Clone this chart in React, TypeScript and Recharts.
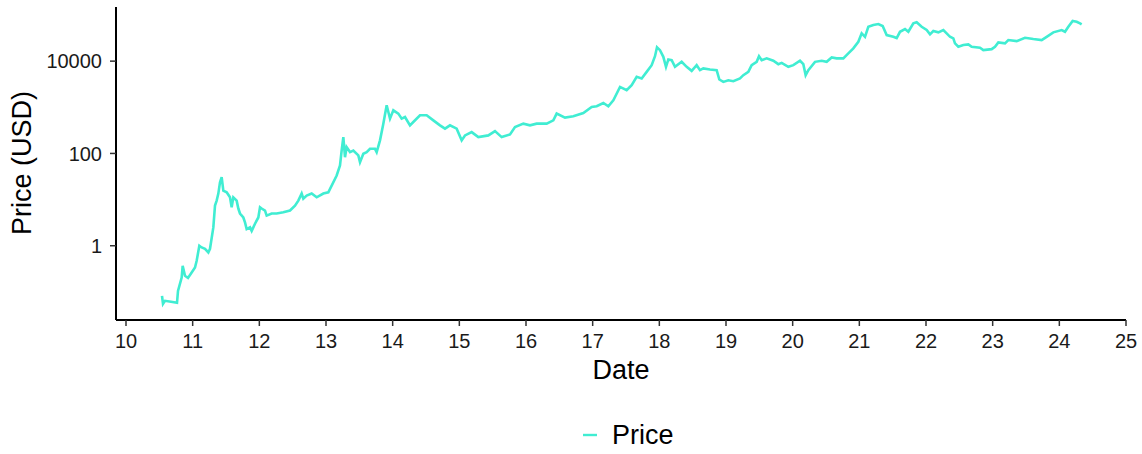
import { LineChart, Line, XAxis, YAxis, Legend, Label } from 'recharts';

// decimal year (10 = 2010)
const years = [
  10.54, 10.555, 10.585, 10.675, 10.765, 10.78, 10.835, 10.85, 10.885, 10.93,
  10.985, 11.035, 11.06, 11.1, 11.135, 11.185, 11.235, 11.26, 11.31, 11.335,
  11.36, 11.385, 11.41, 11.435, 11.46, 11.51, 11.56, 11.585, 11.61, 11.66,
  11.685, 11.71, 11.76, 11.785, 11.81, 11.86, 11.885, 11.935, 11.985, 12.01,
  12.035, 12.085, 12.11, 12.185, 12.26, 12.36, 12.46, 12.535, 12.585, 12.635,
  12.66, 12.71, 12.785, 12.86, 12.96, 13.035, 13.085, 13.16, 13.21, 13.235,
  13.26, 13.285, 13.31, 13.36, 13.41, 13.485, 13.51, 13.56, 13.61, 13.66,
  13.735, 13.76, 13.81, 13.86, 13.91, 13.96, 14.01, 14.085, 14.135, 14.185,
  14.26, 14.31, 14.41, 14.51, 14.61, 14.71, 14.785, 14.86, 14.96, 15.035,
  15.085, 15.185, 15.285, 15.435, 15.535, 15.635, 15.76, 15.835, 15.96, 16.06,
  16.16, 16.31, 16.41, 16.46, 16.585, 16.71, 16.86, 16.985, 17.06, 17.16,
  17.235, 17.31, 17.41, 17.51, 17.585, 17.66, 17.735, 17.81, 17.885, 17.935,
  17.965, 18.01, 18.06, 18.1, 18.135, 18.185, 18.235, 18.335, 18.41, 18.485,
  18.56, 18.61, 18.66, 18.76, 18.86, 18.9, 18.96, 19.035, 19.11, 19.21,
  19.26, 19.335, 19.385, 19.46, 19.495, 19.535, 19.61, 19.71, 19.785, 19.835,
  19.935, 20.01, 20.11, 20.16, 20.195, 20.235, 20.335, 20.435, 20.51, 20.585,
  20.66, 20.76, 20.835, 20.91, 20.985, 21.035, 21.085, 21.135, 21.21, 21.285,
  21.35, 21.41, 21.51, 21.56, 21.61, 21.685, 21.735, 21.81, 21.86, 21.935,
  22.01, 22.06, 22.11, 22.185, 22.26, 22.31, 22.36, 22.41, 22.435, 22.485,
  22.56, 22.635, 22.685, 22.81, 22.86, 22.985, 23.035, 23.085, 23.185, 23.235,
  23.36, 23.485, 23.61, 23.735, 23.81, 23.91, 24.035, 24.085, 24.135, 24.2,
  24.26, 24.31, 24.335,
];

// price in USD
const prices = [
  0.082, 0.055, 0.064, 0.061, 0.058, 0.105, 0.205, 0.367, 0.223, 0.201,
  0.263, 0.337, 0.472, 1.0, 0.918, 0.86, 0.715, 0.86, 2.5, 7.4,
  9.5, 13.5, 23.8, 30.5, 15.7, 14.4, 11.2, 6.8, 11.2, 9.5,
  6.4, 5.0, 4.1, 3.2, 2.3, 2.5, 2.1, 3.0, 4.1, 6.8,
  6.4, 5.8, 4.5, 5.0, 5.0, 5.3, 5.8, 7.4, 9.5, 13.5,
  10.5, 12.2, 13.5, 11.2, 13.5, 14.4, 20.1, 33.3, 54.8, 116,
  226, 83, 137, 107, 116, 90.5, 64.7, 98.5, 107, 126,
  126, 107, 192, 442, 1105, 568, 860, 730, 568, 615,
  406, 479, 670, 670, 521, 406, 344, 406, 344, 192,
  246, 290, 226, 246, 305, 226, 259, 373, 442, 406,
  442, 442, 521, 730, 597, 637, 752, 1016, 1052, 1240,
  1052, 1420, 2760, 2340, 3010, 4560, 4210, 5850, 8180, 12800,
  20000, 17300, 12400, 7520, 10900, 10500, 7520, 9660, 7520, 6150,
  8180, 6370, 6940, 6600, 6370, 4000, 3550, 3860, 3670, 4210,
  4960, 5850, 8180, 9660, 12800, 10500, 11500, 10200, 8600, 9180,
  7520, 8180, 10200, 8600, 4960, 6370, 9660, 10200, 9660, 12000,
  11500, 11500, 14700, 18900, 26300, 40000, 33700, 55700, 60600, 63700,
  57700, 36700, 33700, 31600, 43300, 49600, 43300, 66000, 69400, 55700,
  47200, 38000, 44900, 42100, 47200, 40000, 33700, 31100, 24300, 20500,
  22300, 23100, 20500, 19500, 17300, 18200, 20500, 25500, 24300, 28600,
  27200, 32100, 30100, 28600, 33700, 42100, 47200, 43300, 55700, 74100,
  71500, 66000, 62800,
];

const xTicks = [10, 11, 12, 13, 14, 15, 16, 17, 18, 19, 20, 21, 22, 23, 24, 25];
const yTicks = [1, 100, 10000];

const data = years.map((year, i) => ({ year, price: prices[i] }));

const FONT = '"Liberation Sans", Arial, Helvetica, sans-serif';
const LINE_COLOR = '#40EDD2';

const YTitle = () => (
  <text
    x={22}
    y={163}
    transform="rotate(-90, 22, 163)"
    textAnchor="middle"
    dominantBaseline="central"
    fontSize={27}
    fill="#000"
  >
    Price (USD)
  </text>
);

const renderLegend = () => (
  <div style={{ position: 'relative', height: 28, fontFamily: FONT }}>
    <svg width={14} height={4} style={{ position: 'absolute', left: 583, top: 12 }}>
      <line x1={0} y1={2} x2={14} y2={2} stroke={LINE_COLOR} strokeWidth={2.4} />
    </svg>
    <span style={{ position: 'absolute', left: 612, top: 0, fontSize: 27, lineHeight: '28px', color: '#000' }}>
      Price
    </span>
  </div>
);

export default function App() {
  return (
    <div style={{ position: 'absolute', left: 0, top: 0, fontFamily: FONT, background: '#fff' }}>
      <LineChart width={1142} height={454} data={data} margin={{ top: 7, right: 16, bottom: 0, left: 0 }}>
        <XAxis
          dataKey="year"
          type="number"
          domain={[9.85, 25]}
          ticks={xTicks}
          allowDataOverflow
          height={134}
          tickSize={6}
          tickMargin={8}
          axisLine={{ stroke: '#000', strokeWidth: 2 }}
          tickLine={{ stroke: '#333', strokeWidth: 1.5 }}
          tick={{ fill: '#1a1a1a', fontSize: 20 }}
        >
          <Label value="Date" position="insideTop" offset={40} fontSize={27} fill="#000" />
        </XAxis>
        <YAxis
          type="number"
          scale="log"
          domain={[0.0246, 149000]}
          ticks={yTicks}
          allowDataOverflow
          width={116}
          tickSize={6}
          tickMargin={8}
          axisLine={{ stroke: '#000', strokeWidth: 2 }}
          tickLine={{ stroke: '#333', strokeWidth: 1.5 }}
          tick={{ fill: '#1a1a1a', fontSize: 20 }}
          tickFormatter={(v: number) => String(v)}
        >
          <Label content={<YTitle />} />
        </YAxis>
        <Legend
          layout="horizontal"
          verticalAlign="middle"
          align="center"
          wrapperStyle={{ top: 421, left: 0, width: 1142, height: 28 }}
          content={renderLegend}
        />
        <Line
          type="linear"
          dataKey="price"
          name="Price"
          stroke={LINE_COLOR}
          strokeWidth={2.6}
          dot={false}
          isAnimationActive={false}
        />
      </LineChart>
    </div>
  );
}
